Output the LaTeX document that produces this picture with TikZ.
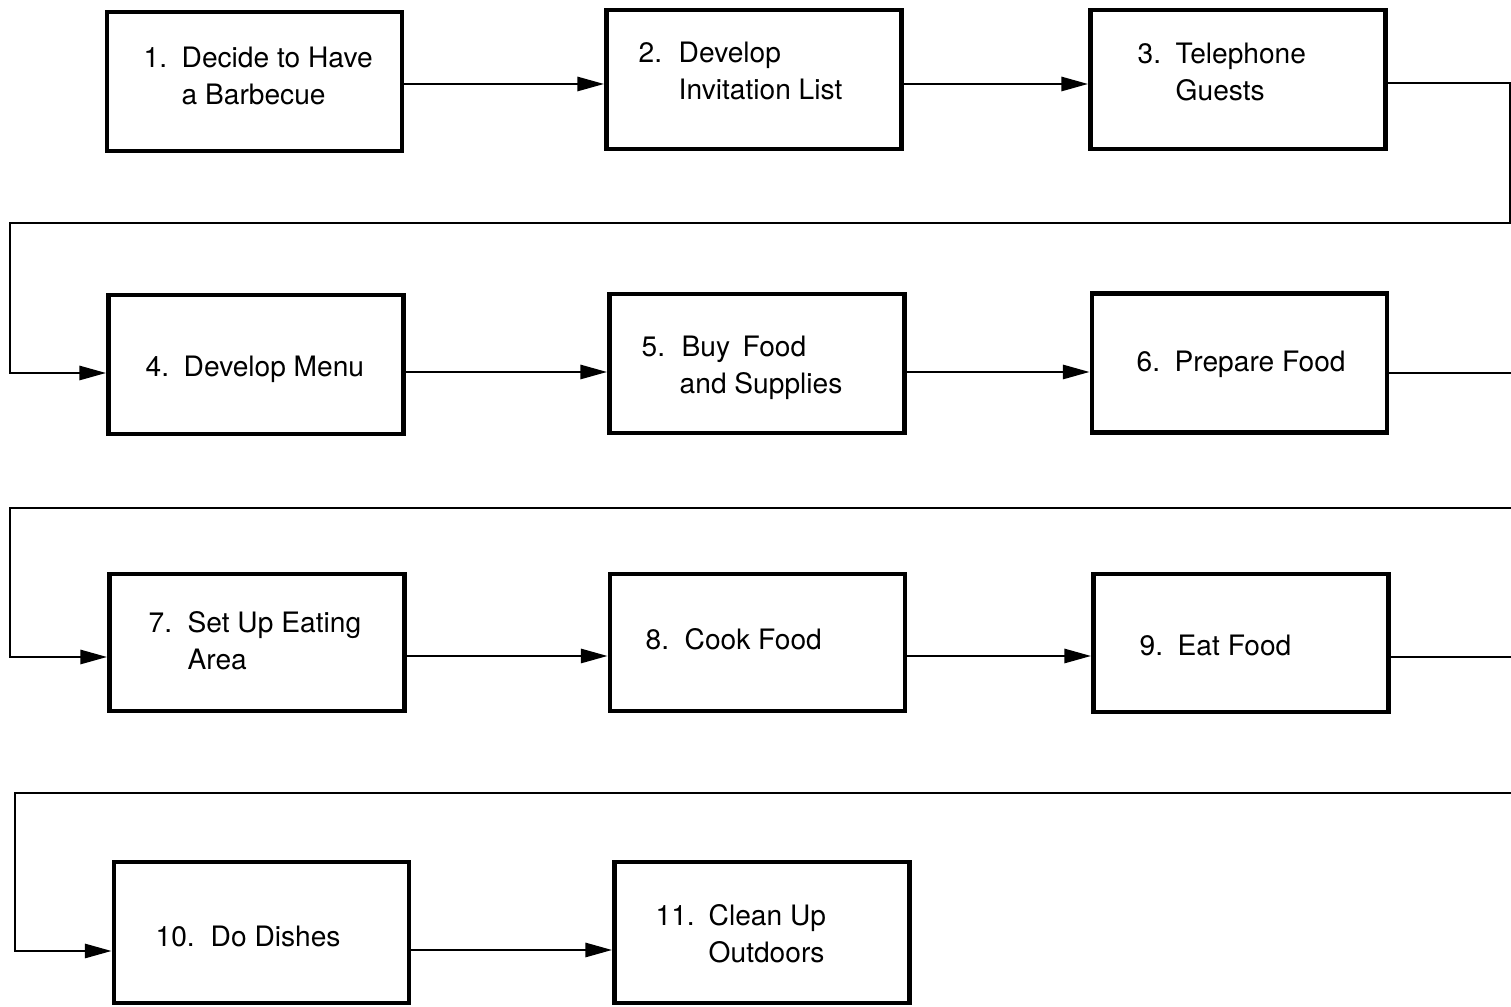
\documentclass[tikz,border=0pt]{standalone}
\usepackage{fontspec}
\setmainfont{TeX Gyre Heros}
\usetikzlibrary{arrows.meta}
\begin{document}
\begin{tikzpicture}[x=0.01cm,y=-0.01cm,
  box/.style={draw, line width=1.3pt, minimum width=2.95cm, minimum height=1.39cm, inner sep=0pt},
  lbl/.style={anchor=base west, inner sep=0pt, font=\fontsize{8}{10.5}\selectfont},
  flow/.style={line width=0.75pt, -{Triangle[length=7.6pt,width=4pt]}},
]
\useasboundingbox (0,0) rectangle (1511,1007);

% process boxes
\node[box] (b1) at (254.5,81.5) {};
\node[box] (b2) at (754,79.5) {};
\node[box] (b3) at (1238,79.5) {};
\node[box] (b4) at (256,364.5) {};
\node[box] (b5) at (757,363.5) {};
\node[box] (b6) at (1239.5,363) {};
\node[box, minimum height=1.37cm] (b7) at (257,642.5) {};
\node[box, minimum height=1.37cm] (b8) at (757.5,642.5) {};
\node[box, minimum height=1.38cm] (b9) at (1241,643) {};
\node[box, minimum height=1.41cm] (b10) at (261.5,932.5) {};
\node[box, minimum height=1.41cm] (b11) at (762,932.5) {};

% step labels: number column, then the wording
\node[lbl] (t1) at (143,68) {\begin{tabular}[t]{@{}p{0.38cm}@{}l@{}}1. & Decide to Have\\ & a Barbecue\end{tabular}};
\node[lbl] (t2) at (638,63) {\begin{tabular}[t]{@{}p{0.40cm}@{}l@{}}2. & Develop\\ & Invitation List\end{tabular}};
\node[lbl] (t3) at (1137,64) {\begin{tabular}[t]{@{}p{0.38cm}@{}l@{}}3. & Telephone\\ & Guests\end{tabular}};
\node[lbl] (t4) at (145,377) {\begin{tabular}[t]{@{}p{0.38cm}@{}l@{}}4. & Develop Menu\end{tabular}};
\node[lbl] (t5) at (641,357) {\begin{tabular}[t]{@{}p{0.40cm}@{}l@{}}5. & Buy\, Food\\ & \hspace{-0.02cm}and Supplies\end{tabular}};
\node[lbl] (t6) at (1136,372) {\begin{tabular}[t]{@{}p{0.38cm}@{}l@{}}6. & Prepare Food\end{tabular}};
\node[lbl] (t7) at (148,633) {\begin{tabular}[t]{@{}p{0.39cm}@{}l@{}}7. & Set Up Eating\\ & Area\end{tabular}};
\node[lbl] (t8) at (645,650) {\begin{tabular}[t]{@{}p{0.39cm}@{}l@{}}8. & Cook Food\end{tabular}};
\node[lbl] (t9) at (1139,656) {\begin{tabular}[t]{@{}p{0.38cm}@{}l@{}}9. & Eat Food\end{tabular}};
\node[lbl] (t10) at (155,947) {\begin{tabular}[t]{@{}p{0.55cm}@{}l@{}}10. & Do Dishes\end{tabular}};
\node[lbl] (t11) at (655,926) {\begin{tabular}[t]{@{}p{0.53cm}@{}l@{}}11. & Clean Up\\ & Outdoors\end{tabular}};

% row levels of the connectors
\coordinate (r1) at (0,84);
\coordinate (r2) at (0,372);
\coordinate (r3) at (0,656);
\coordinate (r4) at (0,950);

% turn points of the return lines
\coordinate (e1) at (1510,223);
\coordinate (w1) at (10,223);
\coordinate (e2) at (1515,508);
\coordinate (w2) at (10,508);
\coordinate (e3) at (1515,793);
\coordinate (w3) at (15,793);

% row 1
\draw[flow] (b1.east |- r1) -- (b2.west |- r1);
\draw[flow] (b2.east |- r1) -- (b3.west |- r1);
\draw[flow] (b3.east |- 0,83) -| (e1) -- (w1) |- (b4.west |- 0,373);
% row 2
\draw[flow] (b4.east |- r2) -- (b5.west |- r2);
\draw[flow] (b5.east |- r2) -- (b6.west |- r2);
\draw[flow] (b6.east |- 0,373) -| (e2) -- (w2) |- (b7.west |- 0,657);
% row 3
\draw[flow] (b7.east |- r3) -- (b8.west |- r3);
\draw[flow] (b8.east |- r3) -- (b9.west |- r3);
\draw[flow] (b9.east |- 0,657) -| (e3) -- (w3) |- (b10.west |- 0,951);
% row 4
\draw[flow] (b10.east |- r4) -- (b11.west |- r4);
\end{tikzpicture}
\end{document}
